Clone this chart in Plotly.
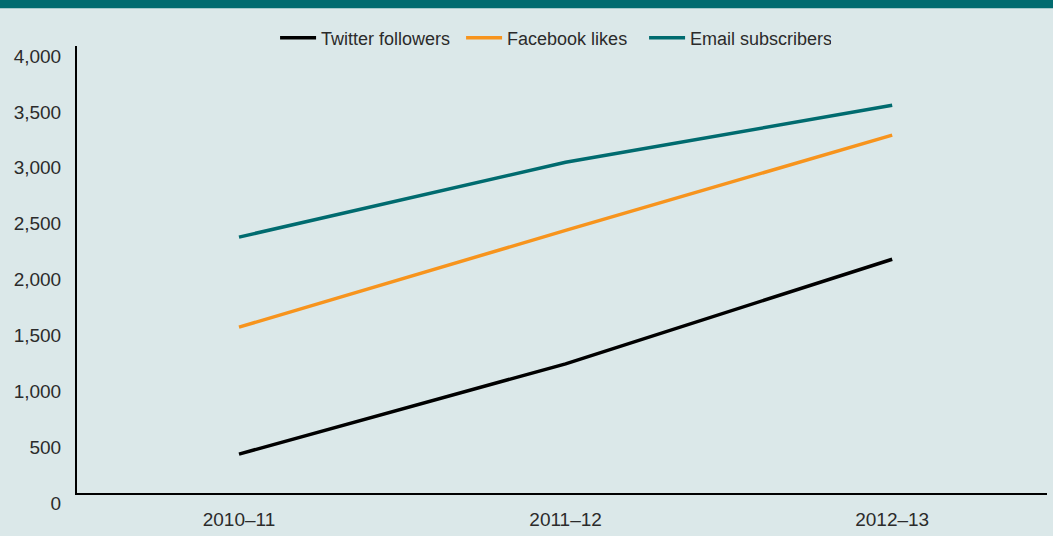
import plotly.graph_objects as go

years = ["2010–11", "2011–12", "2012–13"]
twitter = [348, 1156, 2092]
facebook = [1484, 2350, 3203]
email = [2290, 2960, 3469]
y_ticks = [0, 500, 1000, 1500, 2000, 2500, 3000, 3500, 4000]
y_tick_text = ["0", "500", "1,000", "1,500", "2,000", "2,500", "3,000", "3,500", "4,000"]

BG = "#dbe8e9"
TEAL = "#006b6f"
ORANGE = "#f7941d"
FONT = "Liberation Sans, Arial, sans-serif"
TXT = "#2b2b2b"

fig = go.Figure()
fig.add_trace(go.Scatter(x=years, y=twitter, mode="lines", name="Twitter followers",
                         line=dict(color="#000000", width=3.5), legendwidth=135))
fig.add_trace(go.Scatter(x=years, y=facebook, mode="lines", name="Facebook likes",
                         line=dict(color=ORANGE, width=3.5), legendwidth=132))
fig.add_trace(go.Scatter(x=years, y=email, mode="lines", name="Email subscribers",
                         line=dict(color=TEAL, width=3.5), legendwidth=136))

fig.update_layout(
    width=1053, height=536,
    margin=dict(l=77, r=6, t=46, b=40),
    paper_bgcolor=BG, plot_bgcolor=BG,
    font=dict(family=FONT, size=18, color=TXT),
    showlegend=True,
    legend=dict(orientation="h", x=0.2042, xanchor="left", y=1.018, yanchor="middle",
                bgcolor="rgba(0,0,0,0)", font=dict(size=18, color=TXT), itemwidth=36,
                traceorder="normal"),
    xaxis=dict(type="category", range=[-0.496, 2.474], showgrid=False, zeroline=False,
               showline=True, linecolor="#000000", linewidth=2, ticks="",
               tickfont=dict(size=19), ticklabelstandoff=8),
    yaxis=dict(range=[0, 4000], tickvals=y_ticks, ticktext=y_tick_text, showgrid=False,
               zeroline=False, showline=True, linecolor="#000000", linewidth=2, ticks="",
               tickfont=dict(size=19), ticklabelshift=10, ticklabelstandoff=10),
    shapes=[dict(type="rect", xref="paper", yref="paper", x0=-0.1, x1=1.1,
                 y0=1.0844, y1=1.2, fillcolor=TEAL, line=dict(width=0), layer="above")],
)

fig.write_html("out.html")
